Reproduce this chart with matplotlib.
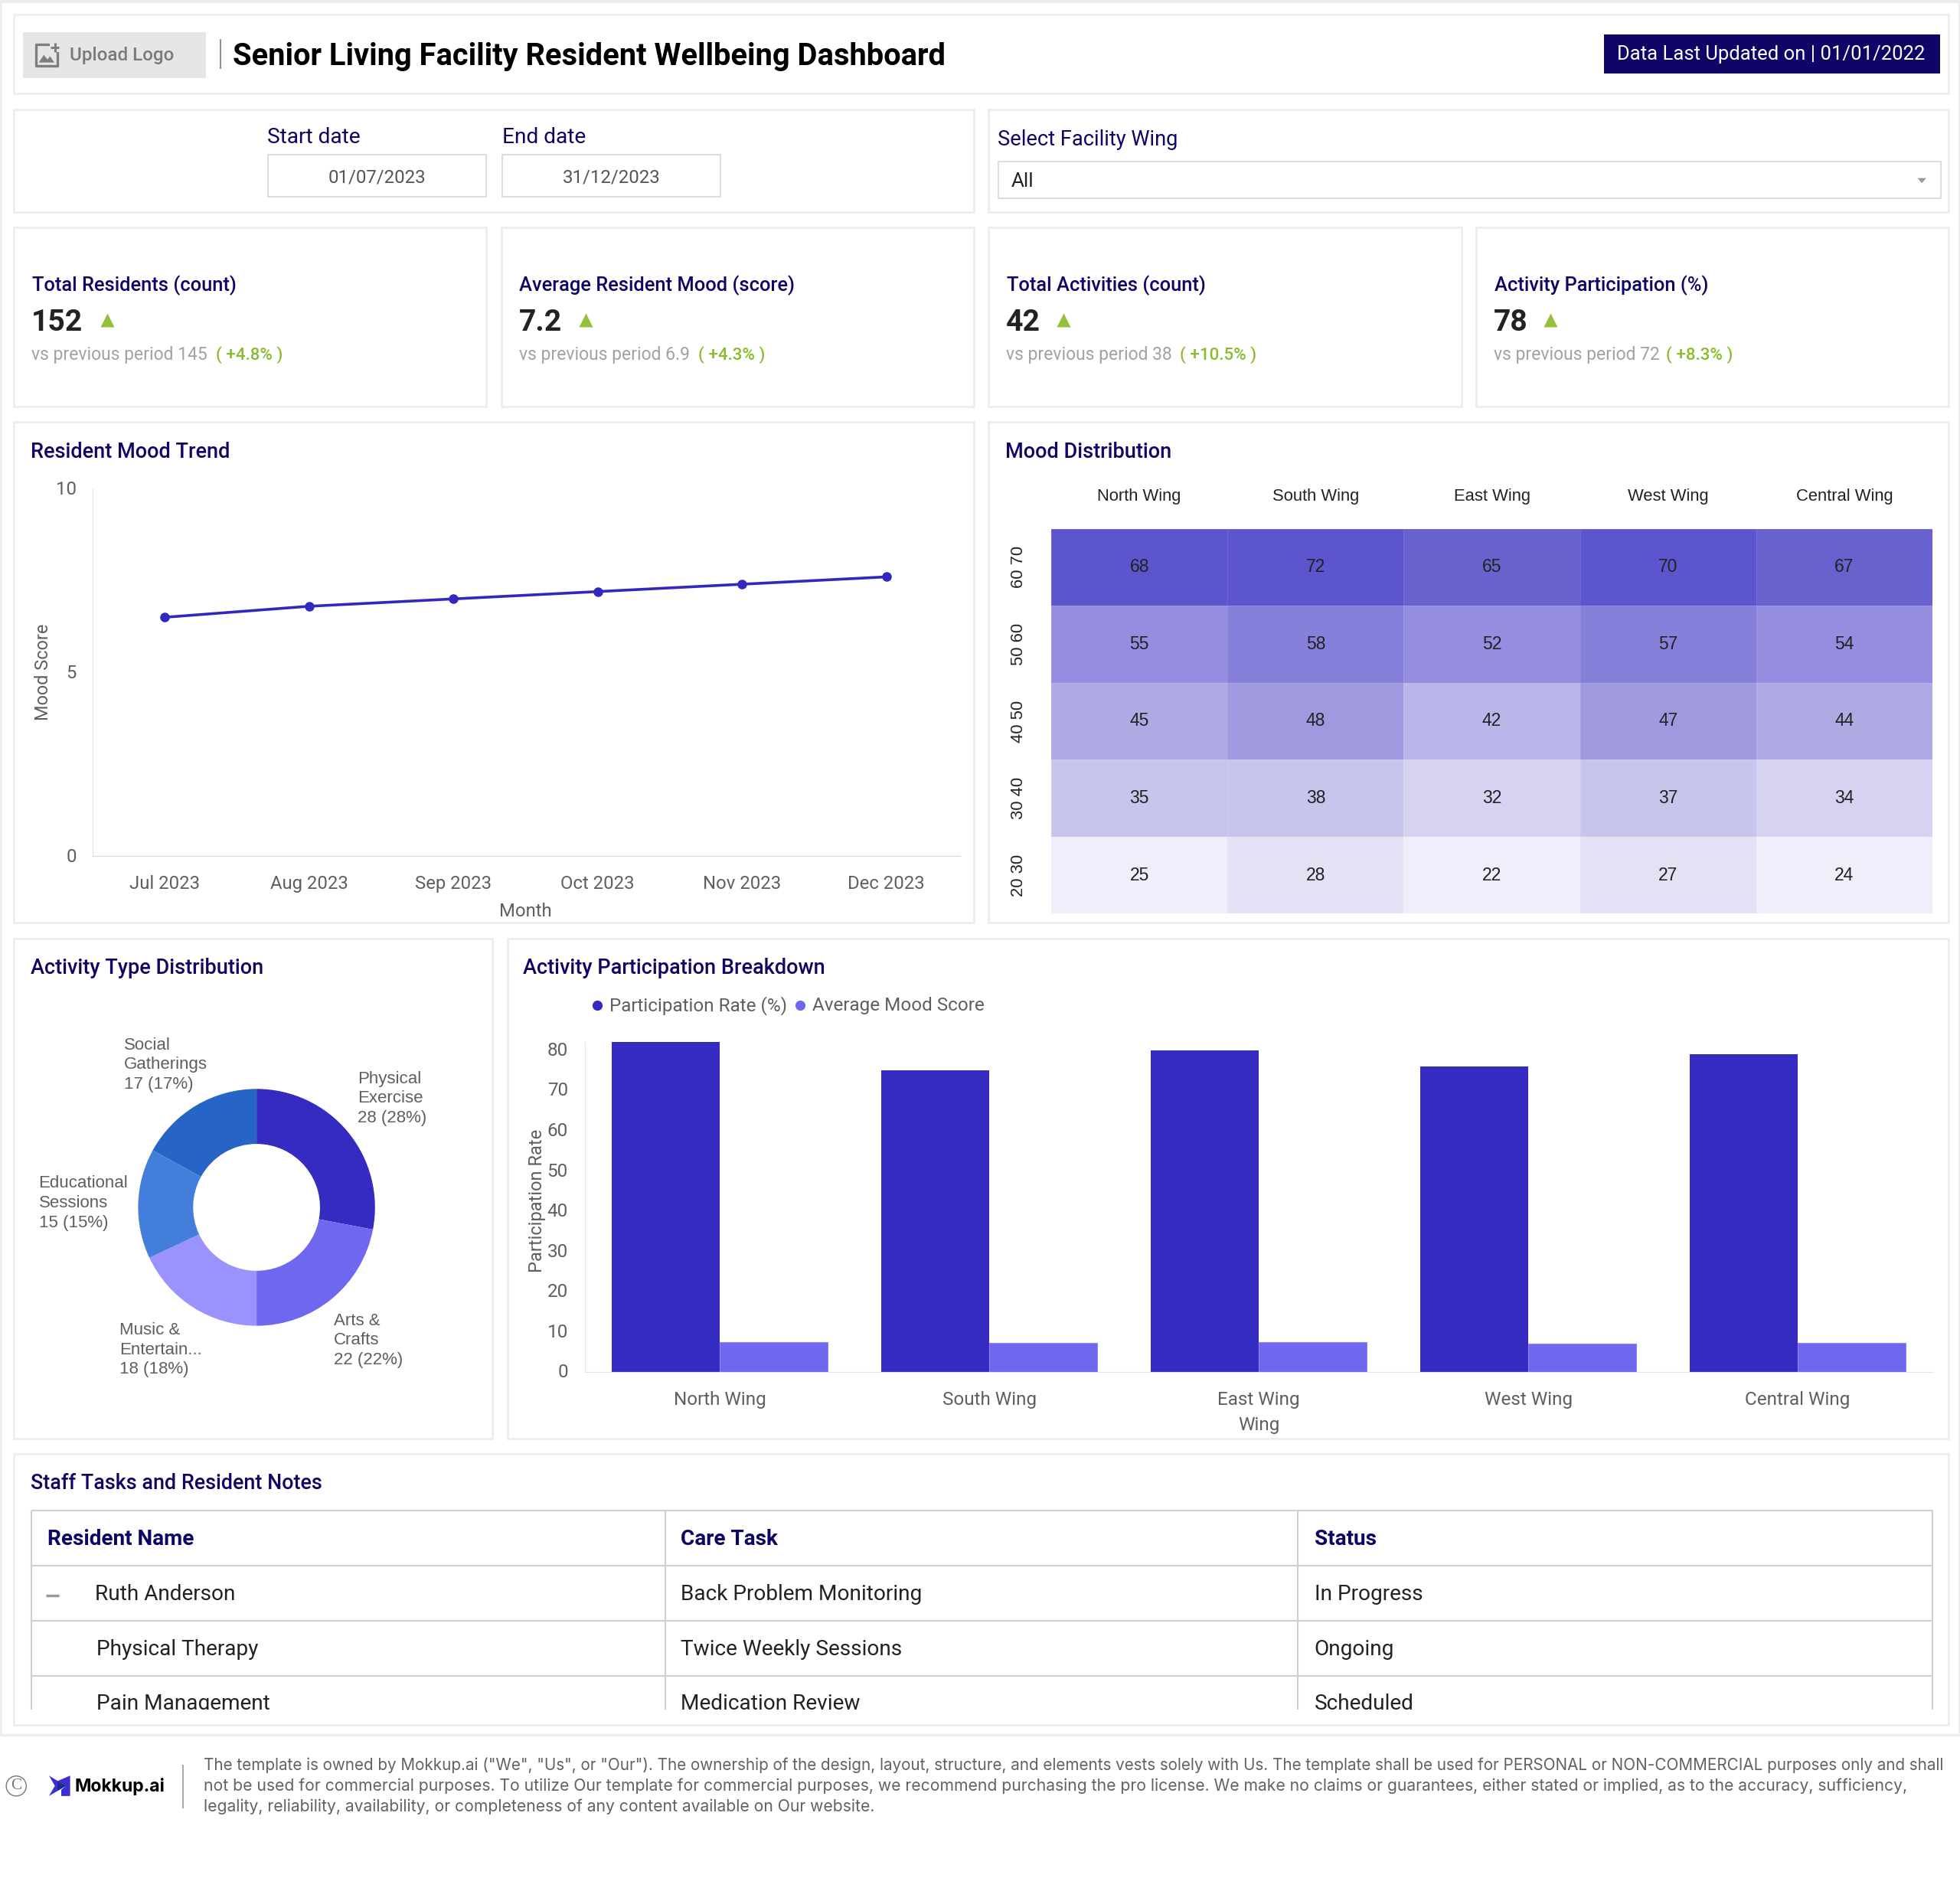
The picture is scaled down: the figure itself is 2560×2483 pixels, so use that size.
import numpy as np
import matplotlib
matplotlib.use("Agg")
import matplotlib.pyplot as plt
from matplotlib.colors import ListedColormap, BoundaryNorm
from matplotlib.patches import Rectangle, Polygon, Circle
from matplotlib.transforms import ScaledTranslation

# data
months = ["Jul 2023", "Aug 2023", "Sep 2023", "Oct 2023", "Nov 2023", "Dec 2023"]
mood_trend = [6.5, 6.8, 7.0, 7.2, 7.4, 7.6]

wings = ["North Wing", "South Wing", "East Wing", "West Wing", "Central Wing"]
mood_bins = ["60 70", "50 60", "40 50", "30 40", "20 30"]
mood_grid = [[68, 72, 65, 70, 67],
             [55, 58, 52, 57, 54],
             [45, 48, 42, 47, 44],
             [35, 38, 32, 37, 34],
             [25, 28, 22, 27, 24]]
heat_bounds = [20, 26, 30, 35, 41, 43, 46, 50, 56, 60, 68, 75]
heat_colors = ["#F0EEFA", "#E4E1F5", "#D6D2F1", "#C8C5EC", "#BBB6E9", "#AFA9E4",
               "#9F9AE0", "#948DE0", "#8780DA", "#6962CE", "#5D55CD"]

activity_values = [28, 22, 18, 15, 17]
activity_colors = ["#352BC0", "#6F67F0", "#9A93FD", "#437EDB", "#2665C6"]

participation = [82, 75, 80, 76, 79]
avg_mood = [7.6, 7.4, 7.5, 7.2, 7.4]

kpi_titles = ["Total Residents (count)", "Average Resident Mood (score)",
              "Total Activities (count)", "Activity Participation (%)"]
kpi_values = ["152", "7.2", "42", "78"]
kpi_prev = ["vs previous period 145", "vs previous period 6.9",
            "vs previous period 38", "vs previous period 72"]
kpi_delta = ["( +4.8% )", "( +4.3% )", "( +10.5% )", "( +8.3% )"]

table_head = ["Resident Name", "Care Task", "Status"]
table_rows = [["Ruth Anderson", "Back Problem Monitoring", "In Progress"],
              ["Physical Therapy", "Twice Weekly Sessions", "Ongoing"],
              ["Pain Management", "Medication Review", "Scheduled"]]

footer = ['The template is owned by Mokkup.ai ("We", "Us", or "Our"). The ownership of the design, layout, structure, and elements vests solely with Us. The template shall be used for PERSONAL or NON-COMMERCIAL purposes only and shall',
          'not be used for commercial purposes. To utilize Our template for commercial purposes, we recommend purchasing the pro license. We make no claims or guarantees, either stated or implied, as to the accuracy, sufficiency,',
          'legality, reliability, availability, or completeness of any content available on Our website.']
footer_sizes = [12.65, 12.9, 12.9]

NAVY = "#0E0566"
BORDER = "#EDEDED"
GREY = "#5F5F5F"
W, H = 1568.0, 1521.0
PT = 2560 / 1568 * 0.72

fig = plt.figure(figsize=(25.6, 24.83), dpi=100, facecolor="white")
bg = fig.add_axes([0, 0, 1, 1], zorder=0)
bg.set_xlim(0, W)
bg.set_ylim(H, 0)
bg.axis("off")


def axes_at(x0, y0, x1, y1):
    return fig.add_axes([x0 / W, 1 - y1 / H, (x1 - x0) / W, (y1 - y0) / H], zorder=2)


def txt(x, y, s, size, color="black", weight="normal", ha="left", family="Roboto", **kw):
    if family == "Roboto":
        y = y + 1
    return bg.text(x, y, s, fontsize=size * PT, color=color, fontweight=weight, ha=ha,
                   va="center", family=family, **kw)


def card(x0, y0, x1, y1):
    bg.add_patch(Rectangle((x0, y0), x1 - x0, y1 - y0, fc="white", ec=BORDER, lw=2))


def line(x0, y0, x1, y1, color="#CFCFCF", lw=1.5, zorder=3):
    bg.plot([x0, x1], [y0, y1], color=color, lw=lw, zorder=zorder, solid_capstyle="butt")


def clean(ax, size=14, family="Roboto"):
    for s in ax.spines.values():
        s.set_visible(False)
    for lab in ax.get_xticklabels() + ax.get_yticklabels():
        lab.set_family(family)
        lab.set_fontsize(size * PT)
        lab.set_color(GREY)


def lift_yticks(ax, amount):
    # y tick labels sit a little above their tick in the reference
    shift = ScaledTranslation(0, amount * 2560 / 1568 / 100, fig.dpi_scale_trans)
    for lab in ax.get_yticklabels():
        lab.set_transform(lab.get_transform() + shift)


# page frame
line(0, 1, W, 1, BORDER, 3)
line(0.5, 0, 0.5, 1388, BORDER, 2)
line(W - 0.5, 0, W - 0.5, 1388, BORDER, 2)
line(0, 1388, W, 1388, BORDER, 2.5)

# header
card(11, 11.5, 1559, 75)
bg.add_patch(Rectangle((18.4, 25.7), 146.6, 36.6, fc="#E6E6E6", ec="none"))
bg.add_patch(Rectangle((28.6, 35.5), 17.4, 17, fc="none", ec="#7E7E7E", lw=2.4, joinstyle="round"))
bg.add_patch(Rectangle((40, 33), 8.5, 8.5, fc="#E6E6E6", ec="none", zorder=3))
line(43.9, 34.5, 43.9, 41.5, "#7E7E7E", 2.2)
line(40.4, 38, 47.4, 38, "#7E7E7E", 2.2)
bg.add_patch(Polygon([[31, 50], [35, 44], [38, 47.5], [40, 45], [43.5, 50]], fc="#7E7E7E", ec="none"))
txt(56, 43.5, "Upload Logo", 14.8, "#7A7A7A", "medium")
line(176.6, 31, 176.6, 55, "#9A8A9A", 1.5)
txt(186.5, 44.5, "Senior Living Facility Resident Wellbeing Dashboard", 24.4, "black", "bold")
bg.add_patch(Rectangle((1283, 27.5), 269, 31, fc=NAVY, ec="none"))
txt(1417, 42.5, "Data Last Updated on | 01/01/2022", 15.7, "white", ha="center")

# filters
card(11, 87.5, 779, 169.5)
card(791, 87.5, 1559, 169.5)
txt(214, 109, "Start date", 17.2, NAVY)
txt(402, 109, "End date", 17.2, NAVY)
for x0, d in [(214.5, "01/07/2023"), (402, "31/12/2023")]:
    bg.add_patch(Rectangle((x0, 124), 174.5, 33.5, fc="white", ec="#D6D6D6", lw=1.2))
    txt(x0 + 87, 141, d, 14.7, "#555555", ha="center")
txt(798, 111, "Select Facility Wing", 16.7, NAVY)
bg.add_patch(Rectangle((798.5, 129), 754, 29.5, fc="white", ec="#D6D6D6", lw=1.2))
txt(809, 144, "All", 16, "#222222")
bg.add_patch(Polygon([[1534, 142.5], [1541, 142.5], [1537.5, 146.5]], fc="#9A9A9A", ec="none"))

# kpi cards
kpi_x = [11, 401, 791, 1181]
kpi_tri = [85.5, 468.5, 851, 1240.5]
kpi_green = [173, 558.5, 944, 1333]
for i in range(4):
    x0 = kpi_x[i]
    card(x0, 182, x0 + 378, 325)
    txt(x0 + 14.5, 227, kpi_titles[i], 15.6, NAVY, "medium")
    txt(x0 + 14, 257.5, kpi_values[i], 24, "#222222", "bold")
    bg.plot([kpi_tri[i]], [256], marker="^", ms=12.5, color="#94C03A", mec="none", zorder=3)
    txt(x0 + 14, 283, kpi_prev[i], 14, "#A2A2A2")
    txt(kpi_green[i], 283, kpi_delta[i], 13.7, "#8DBB2F", "medium")

# mood trend
card(11, 337.5, 779, 738)
txt(24.5, 361, "Resident Mood Trend", 16.6, NAVY, "medium")
ax = axes_at(74, 391, 768, 685)
ax.plot(months, mood_trend, color="#3228BE", lw=2.6, marker="o", ms=8)
ax.set_xlim(-0.5, 5.51)
ax.set_ylim(0, 10)
ax.set_yticks([0, 5, 10])
ax.tick_params(length=0)
ax.tick_params(axis="x", pad=17.5)
ax.tick_params(axis="y", pad=15)
clean(ax, 14.6)
lift_yticks(ax, 1)
ax.spines["left"].set_visible(True)
ax.spines["left"].set_color("#E2E2E2")
ax.spines["bottom"].set_visible(True)
ax.spines["bottom"].set_color("#DADADA")
txt(34.5, 537, "Mood Score", 14.4, GREY, ha="center", rotation=90, rotation_mode="anchor")
txt(420.5, 728, "Month", 14.6, GREY, ha="center")

# mood distribution
card(791, 337.5, 1559, 738)
txt(804.5, 361, "Mood Distribution", 16.6, NAVY, "medium")
ax = axes_at(841, 423, 1546, 731)
grid = np.array(mood_grid)
ax.pcolormesh(grid, cmap=ListedColormap(heat_colors), norm=BoundaryNorm(heat_bounds, len(heat_colors)),
              edgecolors="#FFFFFF18", linewidth=0.6)
ax.invert_yaxis()
for r in range(grid.shape[0]):
    for c in range(grid.shape[1]):
        ax.text(c + 0.5, r + 0.5, str(grid[r, c]), ha="center", va="center",
                fontsize=14 * PT, family="Liberation Sans", color="#222222")
ax.xaxis.tick_top()
ax.set_xticks(np.arange(5) + 0.5, wings)
ax.set_yticks(np.arange(5) + 0.5, mood_bins)
ax.tick_params(length=0)
ax.tick_params(axis="x", pad=23)
ax.tick_params(axis="y", pad=23)
clean(ax, 13.5, "Liberation Sans")
for lab in ax.get_xticklabels() + ax.get_yticklabels():
    lab.set_color("#222222")
for lab in ax.get_yticklabels():
    lab.set_rotation(90)
    lab.set_va("center")

# activity donut
card(11, 751, 394, 1151)
txt(24.5, 773.5, "Activity Type Distribution", 16.6, NAVY, "medium")
ax = axes_at(110.5, 871, 300, 1061)
ax.pie(activity_values, colors=activity_colors, startangle=90, counterclock=False, radius=1,
       wedgeprops=dict(width=1 - 82.5 / 154, linewidth=0))
ax.set_xlim(-1, 1)
ax.set_ylim(-1, 1)
ax.patch.set_alpha(0)
donut_labels = [(286, 879, "Physical\nExercise\n28 (28%)"),
                (267, 1072.5, "Arts &\nCrafts\n22 (22%)"),
                (95.5, 1080, "Music &\nEntertain...\n18 (18%)"),
                (31, 962.5, "Educational\nSessions\n15 (15%)"),
                (99, 852, "Social\nGatherings\n17 (17%)")]
for x, y, s in donut_labels:
    txt(x, y, s, 13.6, GREY, family="Liberation Sans", linespacing=1.3)

# participation bars
card(406, 751, 1559, 1151)
txt(418.5, 773.5, "Activity Participation Breakdown", 16.6, NAVY, "medium")
bg.plot([477.5], [804.5], marker="o", ms=8.5, color="#352BC0", zorder=3)
bg.plot([640], [804.5], marker="o", ms=8.5, color="#6F67F0", zorder=3)
txt(487.5, 803.5, "Participation Rate (%)", 14.9, GREY)
txt(650, 803.5, "Average Mood Score", 14.9, GREY)
ax = axes_at(468, 834, 1546, 1098)
pos = np.arange(len(wings))
ax.bar(pos - 0.2, participation, 0.4, color="#352BC0")
ax.bar(pos + 0.2, avg_mood, 0.4, color="#6F67F0", edgecolor="#8F88F5", linewidth=0.8)
ax.set_xlim(-0.5, 4.5)
ax.set_ylim(0, 82)
ax.set_yticks(range(0, 81, 10))
ax.set_xticks(pos, wings)
ax.tick_params(length=0)
ax.tick_params(axis="x", pad=17.5)
ax.tick_params(axis="y", pad=16)
clean(ax, 14.9)
lift_yticks(ax, 1.3)
ax.spines["bottom"].set_visible(True)
ax.spines["bottom"].set_color("#E2E2E2")
ax.spines["left"].set_visible(True)
ax.spines["left"].set_color("#EAEAEA")
txt(429.5, 960, "Participation Rate", 14.5, GREY, ha="center", rotation=90, rotation_mode="anchor")
txt(1007, 1139.5, "Wing", 14.9, GREY, ha="center")

# table
card(11, 1163, 1559, 1380)
txt(24.5, 1186, "Staff Tasks and Resident Notes", 16.5, NAVY, "medium")
col_x = [25, 532, 1038, 1546]
row_y = [1208.5, 1253, 1297, 1341]
for y in row_y:
    line(25, y, 1546, y)
for x in col_x:
    line(x, 1208.5, x, 1368)
for x, s in zip([38, 544.7, 1051.5], table_head):
    txt(x, 1230.5, s, 17.1, NAVY, "bold")
name_x = [76, 77, 77]
for r, row in enumerate(table_rows):
    y = 1274.5 + 44 * r
    txt(name_x[r], y, row[0], 17.15, "#222222")
    txt(544.7, y, row[1], 17.15, "#222222")
    txt(1051.5, y, row[2], 17.15, "#222222")
line(37, 1276.5, 47, 1276.5, "#9A9A9A", 2.5)
bg.add_patch(Rectangle((12, 1368), 1546, 11, fc="white", ec="none", zorder=4))

# footer
bg.add_patch(Circle((13, 1429), 8, fc="none", ec="#777777", lw=1))
txt(13, 1429, "C", 13, "#777777", ha="center", family="Liberation Serif")
bg.add_patch(Polygon([[56.1, 1420.7], [56.1, 1437], [49, 1437], [49, 1432], [52.7, 1428.9], [46, 1425]],
                     fc="#3A2FD0", ec="none"))
bg.add_patch(Polygon([[39.2, 1420.7], [52.7, 1428.9], [39.2, 1437], [43.9, 1428.9]], fc="#3A2FD0", ec="none"))
bg.add_patch(Polygon([[46, 1425], [52.7, 1428.9], [46, 1432.9]], fc="#1E2B90", ec="none"))
txt(59.5, 1429.5, "Mokkup.ai", 14.1, "black", "bold", family="Inter")
line(146.5, 1412, 146.5, 1447, "#A8A8B0", 1.5)
for i, s in enumerate(footer):
    txt(163, 1412.5 + 16.5 * i, s, footer_sizes[i], "#5F6368", family="Inter")

fig.savefig("out.png", dpi=100, facecolor="white")
